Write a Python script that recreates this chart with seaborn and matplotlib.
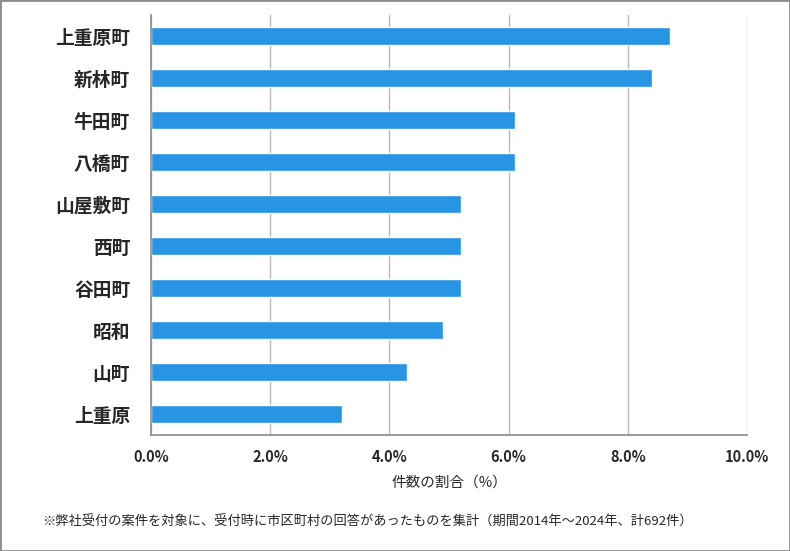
import matplotlib
matplotlib.use('Agg')
import matplotlib.pyplot as plt
import matplotlib.patches as mpatches
import pandas as pd
import seaborn as sns

towns = ['上重原町', '新林町', '牛田町', '八橋町', '山屋敷町', '西町', '谷田町', '昭和', '山町', '上重原']
share = [8.7, 8.4, 6.1, 6.1, 5.2, 5.2, 5.2, 4.9, 4.3, 3.2]
xticks = [0, 2, 4, 6, 8, 10]
xtick_labels = ['0.0%', '2.0%', '4.0%', '6.0%', '8.0%', '10.0%']

sns.set_style('white')
plt.rcParams['font.family'] = ['Noto Sans CJK JP', 'DejaVu Sans']

df = pd.DataFrame({'town': towns, 'share': share})

fig = plt.figure(figsize=(7.9, 5.51), dpi=100)
ax = fig.add_axes([151 / 790, 1 - 435 / 551, (747 - 151) / 790, 420 / 551])

sns.barplot(data=df, x='share', y='town', color='#2894e4', width=0.43,
            saturation=1, ax=ax, zorder=3)

ax.set_xlim(0, 10)
ax.set_xticks(xticks)
ax.set_xticklabels(xtick_labels, fontsize=10.5, fontweight='bold')
ax.set_ylim(9.5, -0.5)
ax.tick_params(axis='y', labelsize=13.5, length=0, pad=15)
ax.tick_params(axis='x', length=0, pad=10)
for lbl in ax.get_yticklabels():
    lbl.set_fontweight('bold')

ax.grid(axis='x', color='#b8b8b8', linewidth=1, zorder=0)
for side in ['top', 'right']:
    ax.spines[side].set_visible(False)
for side in ['left', 'bottom']:
    ax.spines[side].set_color('#8c8c8c')
    ax.spines[side].set_linewidth(1.2)
ax.spines['left'].set_zorder(4)

ax.set_xlabel('件数の割合（%）', fontsize=10.5, labelpad=8)
ax.set_ylabel('')

fig.text(42 / 790, 1 - 522 / 551,
         '※弊社受付の案件を対象に、受付時に市区町村の回答があったものを集計（期間2014年～2024年、計692件）',
         fontsize=9.5, va='center', ha='left')

fig.patches.append(mpatches.Rectangle((0, 0), 1, 1, transform=fig.transFigure,
                                      fill=False, edgecolor='#8c8c8c', linewidth=2))

fig.savefig('out.png', dpi=100)
plt.close(fig)
